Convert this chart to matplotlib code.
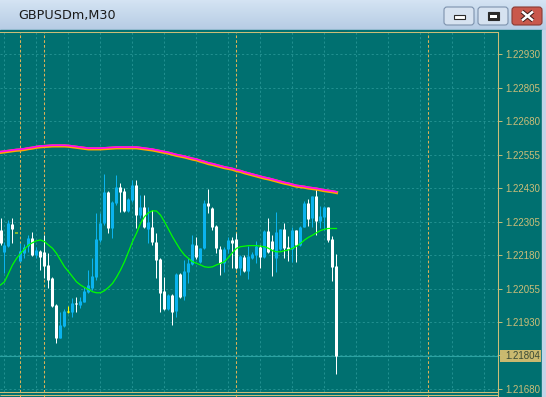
import numpy as np
import matplotlib
matplotlib.use("Agg")
import matplotlib.pyplot as plt
import matplotlib.transforms as mtransforms
from matplotlib.patches import Rectangle, FancyBboxPatch, Polygon
from matplotlib.colors import LinearSegmentedColormap

# GBPUSDm M30 bars, oldest first (85 visible bars)
opens = [1.22273, 1.22192, 1.22213, 1.22296, 1.22261, 1.22159, 1.22186, 1.22213, 1.22242, 1.22180,
         1.22195, 1.22192, 1.22143, 1.22093, 1.21993, 1.21871, 1.21915, 1.21968, 1.21968, 1.22002,
         1.21993, 1.22006, 1.22043, 1.22056, 1.22099, 1.22236, 1.22298, 1.22416, 1.22279, 1.22373,
         1.22435, 1.22420, 1.22345, 1.22385, 1.22441, 1.22329, 1.22358, 1.22276, 1.22286, 1.22230,
         1.22164, 1.22047, 1.21977, 1.22031, 1.21972, 1.22108, 1.22027, 1.22118, 1.22146, 1.22217,
         1.22154, 1.22205, 1.22373, 1.22354, 1.22288, 1.22202, 1.22149, 1.22202, 1.22236, 1.22238,
         1.22130, 1.22171, 1.22121, 1.22167, 1.22180, 1.22211, 1.22171, 1.22271, 1.22233, 1.22167,
         1.22201, 1.22276, 1.22208, 1.22201, 1.22273, 1.22217, 1.22286, 1.22375, 1.22317, 1.22400,
         1.22308, 1.22323, 1.22360, 1.22238, 1.22139]
highs = [1.22317, 1.22230, 1.22311, 1.22317, 1.22261, 1.22223, 1.22221, 1.22254, 1.22267, 1.22211,
         1.22199, 1.22254, 1.22186, 1.22097, 1.21997, 1.21968, 1.21977, 1.21990, 1.22018, 1.22022,
         1.22024, 1.22062, 1.22124, 1.22167, 1.22336, 1.22336, 1.22482, 1.22420, 1.22383, 1.22478,
         1.22447, 1.22429, 1.22391, 1.22460, 1.22460, 1.22404, 1.22404, 1.22360, 1.22348, 1.22261,
         1.22167, 1.22099, 1.22034, 1.22034, 1.22111, 1.22111, 1.22161, 1.22167, 1.22254, 1.22248,
         1.22206, 1.22385, 1.22426, 1.22359, 1.22292, 1.22213, 1.22211, 1.22248, 1.22248, 1.22261,
         1.22180, 1.22180, 1.22213, 1.22192, 1.22232, 1.22217, 1.22273, 1.22317, 1.22254, 1.22342,
         1.22276, 1.22300, 1.22251, 1.22286, 1.22273, 1.22288, 1.22383, 1.22388, 1.22400, 1.22425,
         1.22363, 1.22363, 1.22360, 1.22251, 1.22184]
lows = [1.22217, 1.22111, 1.22211, 1.22223, 1.22261, 1.22155, 1.22167, 1.22192, 1.22176, 1.22167,
        1.22124, 1.22093, 1.22056, 1.21987, 1.21850, 1.21869, 1.21912, 1.21965, 1.21950, 1.21968,
        1.21981, 1.22003, 1.22039, 1.22049, 1.22087, 1.22230, 1.22292, 1.22261, 1.22242, 1.22367,
        1.22342, 1.22342, 1.22342, 1.22379, 1.22279, 1.22317, 1.22279, 1.22223, 1.22217, 1.22093,
        1.21968, 1.21975, 1.21975, 1.21919, 1.21950, 1.22018, 1.22012, 1.22074, 1.22143, 1.22164,
        1.22151, 1.22201, 1.22337, 1.22273, 1.22186, 1.22105, 1.22118, 1.22186, 1.22130, 1.22128,
        1.22105, 1.22118, 1.22090, 1.22164, 1.22149, 1.22130, 1.22167, 1.22186, 1.22102, 1.22118,
        1.22199, 1.22167, 1.22159, 1.22155, 1.22155, 1.22213, 1.22283, 1.22288, 1.22286, 1.22254,
        1.22279, 1.22273, 1.22230, 1.22084, 1.21736]
closes = [1.22223, 1.22217, 1.22298, 1.22276, 1.22261, 1.22195, 1.22211, 1.22242, 1.22180, 1.22199,
          1.22171, 1.22139, 1.22087, 1.21990, 1.21871, 1.21919, 1.21972, 1.21968, 1.22000, 1.21996,
          1.22008, 1.22047, 1.22068, 1.22102, 1.22240, 1.22298, 1.22416, 1.22279, 1.22379, 1.22435,
          1.22416, 1.22345, 1.22388, 1.22441, 1.22329, 1.22358, 1.22286, 1.22304, 1.22230, 1.22161,
          1.22039, 1.21977, 1.22031, 1.21968, 1.22109, 1.22024, 1.22121, 1.22151, 1.22221, 1.22171,
          1.22206, 1.22373, 1.22363, 1.22286, 1.22205, 1.22149, 1.22202, 1.22236, 1.22223, 1.22130,
          1.22176, 1.22121, 1.22176, 1.22184, 1.22213, 1.22171, 1.22271, 1.22192, 1.22201, 1.22267,
          1.22276, 1.22205, 1.22204, 1.22273, 1.22217, 1.22283, 1.22375, 1.22313, 1.22400, 1.22308,
          1.22325, 1.22360, 1.22236, 1.22136, 1.21804]

# fast moving average (green)
ma_fast = [1.22068, 1.22080, 1.22111, 1.22143, 1.22167, 1.22186, 1.22202, 1.22217, 1.22226, 1.22233,
           1.22236, 1.22230, 1.22217, 1.22205, 1.22186, 1.22161, 1.22136, 1.22118, 1.22099, 1.22080,
           1.22068, 1.22059, 1.22052, 1.22043, 1.22039, 1.22039, 1.22047, 1.22059, 1.22074, 1.22097,
           1.22124, 1.22155, 1.22192, 1.22230, 1.22261, 1.22298, 1.22323, 1.22338, 1.22345, 1.22344,
           1.22329, 1.22304, 1.22276, 1.22248, 1.22223, 1.22199, 1.22180, 1.22167, 1.22155, 1.22149,
           1.22143, 1.22136, 1.22134, 1.22136, 1.22143, 1.22149, 1.22155, 1.22171, 1.22189, 1.22205,
           1.22211, 1.22213, 1.22215, 1.22215, 1.22215, 1.22213, 1.22211, 1.22205, 1.22196, 1.22192,
           1.22192, 1.22196, 1.22199, 1.22205, 1.22213, 1.22223, 1.22236, 1.22246, 1.22254, 1.22263,
           1.22271, 1.22276, 1.22279, 1.22279, 1.22279]

# slow moving averages (magenta / orange, almost on top of each other)
ma_slow = [1.22563, 1.22565, 1.22567, 1.22569, 1.22571, 1.22572, 1.22574, 1.22577, 1.22579, 1.22582,
           1.22584, 1.22585, 1.22586, 1.22587, 1.22587, 1.22587, 1.22587, 1.22586, 1.22584, 1.22582,
           1.22580, 1.22578, 1.22576, 1.22576, 1.22576, 1.22576, 1.22577, 1.22578, 1.22579, 1.22580,
           1.22580, 1.22580, 1.22580, 1.22580, 1.22580, 1.22578, 1.22576, 1.22574, 1.22572, 1.22569,
           1.22566, 1.22563, 1.22560, 1.22556, 1.22552, 1.22549, 1.22546, 1.22542, 1.22538, 1.22535,
           1.22530, 1.22526, 1.22521, 1.22518, 1.22514, 1.22510, 1.22506, 1.22503, 1.22500, 1.22495,
           1.22492, 1.22487, 1.22483, 1.22479, 1.22475, 1.22471, 1.22467, 1.22464, 1.22460, 1.22456,
           1.22452, 1.22448, 1.22445, 1.22441, 1.22437, 1.22435, 1.22433, 1.22430, 1.22428, 1.22426,
           1.22423, 1.22420, 1.22418, 1.22416, 1.22413]

price_levels = [1.21680, 1.21805, 1.21930, 1.22055, 1.22180, 1.22305, 1.22430, 1.22555, 1.22680, 1.22805, 1.22930]
price_labels = ["1.21680", "", "1.21930", "1.22055", "1.22180", "1.22305", "1.22430", "1.22555", "1.22680", "1.22805", "1.22930"]
bid = 1.21804
day_breaks = [5, 11, 59, 107]   # bar index where a new session starts

teal = "#007070"
khaki = "#cbbd78"
gridc = "#229090"
bull = "#0bb3ee"
bear = "#ffffff"
doji = "#ffff00"

W, H = 546, 397
fig = plt.figure(figsize=(W / 100, H / 100), dpi=100)

# window chrome, drawn in pixel coordinates
bg = fig.add_axes([0, 0, 1, 1])
bg.set_xlim(0, W)
bg.set_ylim(H, 0)
bg.axis("off")
title_cm = LinearSegmentedColormap.from_list("title", ["#d4e3f3", "#b6cce4"])
bg.imshow(np.linspace(0, 1, 30).reshape(-1, 1), extent=(0, W, 30, 0), cmap=title_cm, aspect="auto", zorder=0)
bg.add_patch(Rectangle((0, 30), 542, H - 30, color=teal, zorder=1))
bg.add_patch(Rectangle((542, 30), 4, H - 30, color="#c3d4e8", zorder=1))
bg.text(18, 15.5, "GBPUSDm,M30", fontsize=9.2, va="center", ha="left", color="#1b1b1b", zorder=2)

for x0, fc, ec in [(444, "#d6e2f0", "#7d92ad"), (478, "#d6e2f0", "#7d92ad"), (512, "#c9584c", "#8a3b33")]:
    bg.add_patch(FancyBboxPatch((x0, 7), 30, 18, boxstyle="round,pad=0,rounding_size=3",
                                fc=fc, ec=ec, lw=0.8, zorder=2))
bg.add_patch(Rectangle((454, 15), 11, 3.5, fc="white", ec="#2a2a2a", lw=0.8, zorder=3))
bg.add_patch(Rectangle((488, 11.5), 10.5, 8.5, fc="#2a2a2a", ec="#2a2a2a", lw=0.8, zorder=3))
bg.add_patch(Rectangle((490, 14.5), 6.5, 3.5, fc="white", ec="none", zorder=4))
for seg in [([522, 533], [11.5, 20.5]), ([522, 533], [20.5, 11.5])]:
    bg.plot(seg[0], seg[1], color="#3a1a18", lw=3.2, solid_capstyle="butt", zorder=3)
    bg.plot(seg[0], seg[1], color="white", lw=1.8, solid_capstyle="butt", zorder=4)

# chart-shift marker and bottom frame
bg.add_patch(Polygon([[338, 32], [347, 32], [342.5, 37]], color="#0e6262", zorder=5))
bg.hlines(394.5, 0, 498, color=khaki, lw=0.75, zorder=2)
bg.vlines(498, 392, H, color=khaki, lw=0.75, zorder=2)

# bid price label box
bid_y = 54 + (1.22930 - bid) / (0.00125 / 33.5)
bg.add_patch(Rectangle((500, bid_y - 6), 41, 12, fc="#c9b96f", ec="none", zorder=2))

# price chart
ax = fig.add_axes([0, 5 / H, 498 / W, 360.5 / H])
ax.set_facecolor(teal)
ax.set_xlim(-0.125, 124.375)
ax.set_ylim(1.216688, 1.230140)
ax.spines["left"].set_visible(False)
for side in ["top", "right", "bottom"]:
    ax.spines[side].set_color(khaki)
    ax.spines[side].set_linewidth(0.75)

ax.yaxis.tick_right()
ax.set_yticks(price_levels)
ax.set_yticklabels(price_labels)
ax.tick_params(axis="y", colors=khaki, length=3, width=0.7, pad=2.4, labelsize=7)
for lab in ax.get_yticklabels():
    lab.set_fontfamily("Liberation Sans")
ax.set_xticks(np.arange(1, 125, 8))
ax.tick_params(axis="x", length=0, labelbottom=False)
ax.set_axisbelow(True)
ax.grid(True, color=gridc, linestyle=(0, (2.2, 2.4)), linewidth=0.7)

for d in day_breaks:
    ax.axvline(d, ymin=-5 / 360.5, ymax=1, color="#dfb257", lw=0.75,
               linestyle=(0, (2.6, 2.0)), clip_on=False, zorder=1.5)

ax.axhline(bid, color="#2ba2a2", lw=0.8, zorder=1.6)
ax.text(505 / 498, bid, "1.21804", transform=ax.get_yaxis_transform(), va="center", ha="left",
        fontsize=7, color="#3a4a36", family="Liberation Sans")

o = np.array(opens)
h = np.array(highs)
l = np.array(lows)
c = np.array(closes)
idx = np.arange(len(o))
cols = np.where(c > o, bull, np.where(c < o, bear, doji))
ax.vlines(idx, l, h, colors=cols, lw=0.72, zorder=3)
# bodies: same centre as the wicks, 3 px wide, never thinner than 1 px
lo = np.minimum(o, c)
hi = np.maximum(np.maximum(o, c), lo + 0.00004)
ax.vlines(idx, lo, hi, colors=cols, lw=2.16, zorder=3)

ax.plot(idx, ma_fast, color="#00ff00", lw=0.9, zorder=4)
ax.plot(idx, ma_slow, color="#ffa500", lw=2.3, zorder=4)
up = mtransforms.offset_copy(ax.transData, fig=fig, y=0.7, units="dots")
ax.plot(idx, ma_slow, color="#ff00ff", lw=1.2, transform=up, zorder=5)

fig.savefig("out.png", dpi=100)
